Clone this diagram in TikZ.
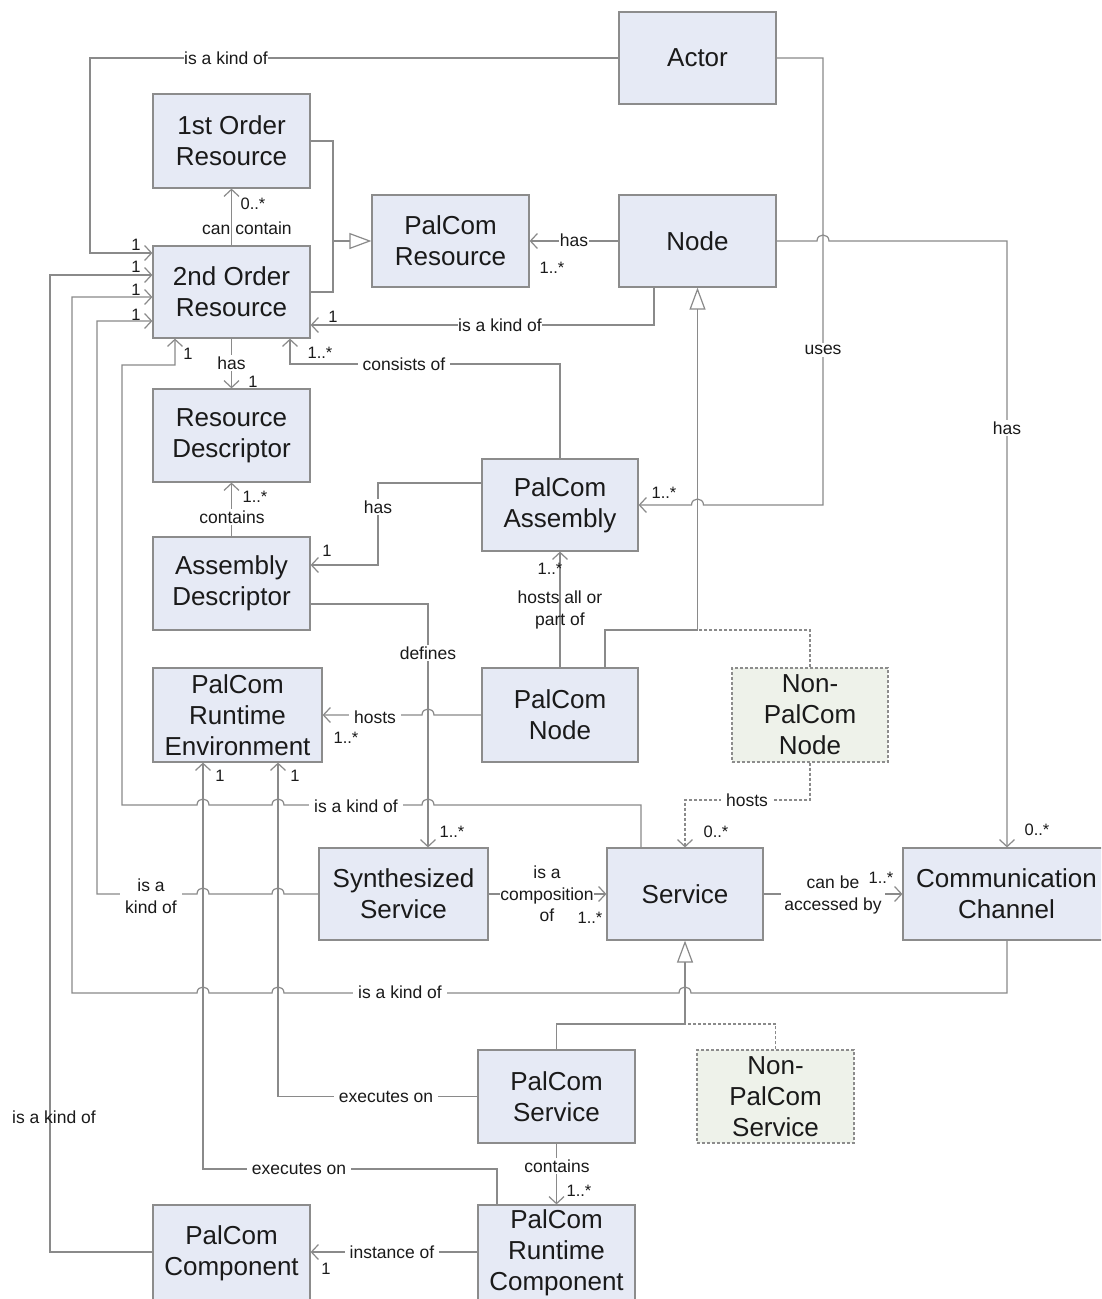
\documentclass[tikz,border=0pt]{standalone}
\usepackage{fontspec}
\setmainfont{Liberation Sans}
\usetikzlibrary{arrows.meta}
\definecolor{boxc}{HTML}{8C8C8C}
\definecolor{boxf}{HTML}{E6EAF5}
\definecolor{npf}{HTML}{EEF2EA}
\definecolor{linec}{HTML}{8A8A8A}
\definecolor{txt}{HTML}{1A1A1A}
\newcommand{\BoxFont}{\fontsize{26}{31}\selectfont}
\newcommand{\LblFont}{\fontsize{17.5}{21.5}\selectfont}
\newcommand{\MultFont}{\fontsize{16.5}{20}\selectfont}
\newcommand{\jmpL}[2]{-- ({#1+6},#2) .. controls ({#1+6},{#2-8}) and ({#1-6},{#2-8}) .. ({#1-6},#2)}
\newcommand{\jmpR}[2]{-- ({#1-6},#2) .. controls ({#1-6},{#2-8}) and ({#1+6},{#2-8}) .. ({#1+6},#2)}
\tikzset{
  cls/.style={draw=boxc, fill=boxf, line width=1.2pt, align=center, inner sep=0pt, font=\BoxFont, text=txt},
  npcls/.style={cls, fill=npf, dash pattern=on 3pt off 2pt},
  ln/.style={draw=linec, line width=1.2pt},
  asc/.style={ln, -{Straight Barb[length=7pt,width=15pt]}},
  gen/.style={ln, -{Triangle[open,length=22pt,width=16pt]}},
  lbl/.style={font=\LblFont, text=txt, inner sep=1pt, align=center},
  lblw/.style={lbl, fill=white, inner sep=2pt},
  mult/.style={font=\MultFont, text=txt, inner sep=0pt},
}
\begin{document}
\begin{tikzpicture}[x=1pt,y=-1pt]
\useasboundingbox (0,0) rectangle (1101,1299);
\clip (0,0) rectangle (1101,1299);
\fill[white] (0,0) rectangle (1101,1299);

% classes
\node[cls, minimum width=157pt, minimum height=92pt] (actor) at (697.5,58) {Actor};
\node[cls, minimum width=157pt, minimum height=94pt] (r1) at (231.5,141) {1st Order\\Resource};
\node[cls, minimum width=157pt, minimum height=92pt] (pr) at (450.5,241) {PalCom\\Resource};
\node[cls, minimum width=157pt, minimum height=92pt] (node) at (697.5,241) {Node};
\node[cls, minimum width=157pt, minimum height=92pt] (r2) at (231.5,292) {2nd Order\\Resource};
\node[cls, minimum width=157pt, minimum height=93pt] (rd) at (231.5,435.5) {Resource\\Descriptor};
\node[cls, minimum width=156pt, minimum height=92pt] (pa) at (560,505) {PalCom\\Assembly};
\node[cls, minimum width=157pt, minimum height=93pt] (ad) at (231.5,583.5) {Assembly\\Descriptor};
\node[cls, minimum width=169pt, minimum height=94pt] (pre) at (237.5,715) {PalCom\\Runtime\\Environment};
\node[cls, minimum width=156pt, minimum height=94pt] (pn) at (560,715) {PalCom\\Node};
\node[npcls, minimum width=156pt, minimum height=94pt] (npn) at (810,715) {Non-\\PalCom\\Node};
\node[cls, minimum width=169pt, minimum height=92pt] (ss) at (403.5,894) {Synthesized\\Service};
\node[cls, minimum width=156pt, minimum height=92pt] (svc) at (685,894) {Service};
\node[cls, minimum width=207pt, minimum height=92pt] (cc) at (1006.5,894) {Communication\\Channel};
\node[cls, minimum width=157pt, minimum height=93pt] (ps) at (556.5,1096.5) {PalCom\\Service};
\node[npcls, minimum width=157pt, minimum height=93pt] (nps) at (775.5,1096.5) {Non-\\PalCom\\Service};
\node[cls, minimum width=157pt, minimum height=96pt] (pc) at (231.5,1253) {PalCom\\Component};
\node[cls, minimum width=157pt, minimum height=96pt] (prc) at (556.5,1253) {PalCom\\Runtime\\Component};

% connectors
\draw[asc] (actor.west) -- (90,58) -- (90,253) -- (r2.west |- 0,253);
\draw[ln] (r1.east) -- (333,141) -- (333,292) -- (r2.east);
\draw[gen] (333,241) -- (pr.west);
\draw[asc] (r2.north) -- (r1.south);
\draw[asc] (node.west) -- (pr.east);
\draw[asc] (node.south -| 654,0) -- (654,325) -- (r2.east |- 0,325);
\draw[asc] (pa.north) -- (560,364) -- (290,364) -- (r2.south -| 290,0);
\draw[asc] (r2.south) -- (rd.north);
\draw[asc] (ad.north) -- (rd.south);
\draw[asc] (pa.west |- 0,483) -- (378,483) -- (378,565) -- (ad.east |- 0,565);
\draw[asc] (ad.east |- 0,604) -- (428,604) -- (ss.north -| 428,0);
\draw[asc] (pn.west) \jmpL{428}{715} -- (pre.east);
\draw[asc] (pn.north) -- (pa.south);
\draw[ln] (pn.north -| 605,0) -- (605,630) -- (697.5,630);
\draw[ln, dash pattern=on 3pt off 2pt] (npn.north) -- (810,630) -- (697.5,630);
\draw[gen] (697.5,630) -- (node.south);
\draw[asc] (actor.east) -- (823,58) -- (823,505) \jmpL{697.5}{505} -- (pa.east |- 0,505);
\draw[asc] (node.east) \jmpR{823}{241} -- (1007,241) -- (cc.north -| 1007,0);
\draw[asc] (svc.north -| 641,0) -- (641,805) \jmpL{428}{805} \jmpL{278}{805} \jmpL{203}{805} -- (122,805) -- (122,365) -- (175,365) -- (r2.south -| 175,0);
\draw[asc] (ss.west) \jmpL{278}{894} \jmpL{203}{894} -- (97,894) -- (97,321) -- (r2.west |- 0,321);
\draw[asc] (cc.south -| 1007,0) -- (1007,993) \jmpL{685}{993} \jmpL{278}{993} \jmpL{203}{993} -- (72,993) -- (72,297) -- (r2.west |- 0,297);
\draw[asc] (pc.west |- 0,1252) -- (50,1252) -- (50,275) -- (r2.west |- 0,275);
\draw[ln] (ps.north) -- (556.5,1024) -- (685,1024);
\draw[ln, dash pattern=on 3pt off 2pt] (nps.north) -- (775.5,1024) -- (685,1024);
\draw[gen] (685,1024) -- (svc.south);
\draw[asc] (ss.east) -- (svc.west);
\draw[asc] (svc.east) -- (cc.west);
\draw[asc, dash pattern=on 3pt off 2pt] (npn.south) -- (810,800) -- (685,800) -- (svc.north);
\draw[asc] (ps.west) -- (278,1096.5) -- (pre.south -| 278,0);
\draw[asc] (prc.north -| 497,0) -- (497,1169) -- (203,1169) -- (pre.south -| 203,0);
\draw[asc] (ps.south) -- (prc.north);
\draw[asc] (prc.west |- 0,1252) -- (pc.east |- 0,1252);

% labels
\node[lblw, inner sep=0.5pt] (t1) at (226,58) {is a kind of};
\node[mult] (m1) at (253,204) {0..*};
\node[lbl] (t2) at (247,228) {can contain};
\node[mult] (m2) at (136,245) {1};
\node[mult] (m3) at (136,267) {1};
\node[mult] (m4) at (136,290) {1};
\node[mult] (m5) at (136,315) {1};
\node[lblw, inner sep=0.5pt] (t3) at (574,240) {has};
\node[mult] (m6) at (552,268) {1..*};
\node[lblw, inner sep=0.5pt] (t4) at (500,325) {is a kind of};
\node[mult] (m7) at (333,317) {1};
\node[lblw, inner sep=5pt] (t5) at (404,364) {consists of};
\node[mult] (m8) at (320,353) {1..*};
\node[mult] (m9) at (188,354) {1};
\node[lblw] (t6) at (231.5,363) {has};
\node[mult] (m10) at (253,382) {1};
\node[mult] (m11) at (255,497) {1..*};
\node[lblw] (t7) at (232,517) {contains};
\node[lblw] (t8) at (378,507) {has};
\node[mult] (m12) at (327,551) {1};
\node[lblw] (t9) at (428,653) {defines};
\node[mult] (m13) at (664,493) {1..*};
\node[lblw] (t10) at (823,350) {uses};
\node[lblw] (t11) at (1007,428) {has};
\node[mult] (m14) at (550,569) {1..*};
\node[lbl] (t12) at (560,610) {hosts all or\\part of};
\node[lblw, inner sep=5pt] (t13) at (375,717) {hosts};
\node[mult] (m15) at (346,738) {1..*};
\node[mult] (m16) at (220,776) {1};
\node[mult] (m17) at (295,776) {1};
\node[lblw, inner sep=5pt] (t14) at (356,806) {is a kind of};
\node[mult] (m18) at (452,832) {1..*};
\node[lblw, inner sep=5pt] (t15) at (747,800) {hosts};
\node[mult] (m19) at (716,832) {0..*};
\node[mult] (m20) at (1037,830) {0..*};
\node[lblw, inner sep=5pt] (t16) at (151,896) {is a\\kind of};
\node[lblw, inner sep=0pt] (t17) at (547,894) {is a\\composition\\of};
\node[mult] (m21) at (590,918) {1..*};
\node[lblw, inner sep=3pt] (t18) at (833,895) {can be\\accessed by};
\node[mult] (m22) at (881,878) {1..*};
\node[lblw, inner sep=5pt] (t19) at (400,992) {is a kind of};
\node[lbl] (t20) at (54,1117) {is a kind of};
\node[lblw, inner sep=5pt] (t21) at (386,1097) {executes on};
\node[lblw, inner sep=5pt] (t22) at (299,1169) {executes on};
\node[lblw] (t23) at (557,1166) {contains};
\node[mult] (m23) at (579,1191) {1..*};
\node[lblw, inner sep=5pt] (t24) at (392,1252) {instance of};
\node[mult] (m24) at (326,1269) {1};
\end{tikzpicture}
\end{document}
